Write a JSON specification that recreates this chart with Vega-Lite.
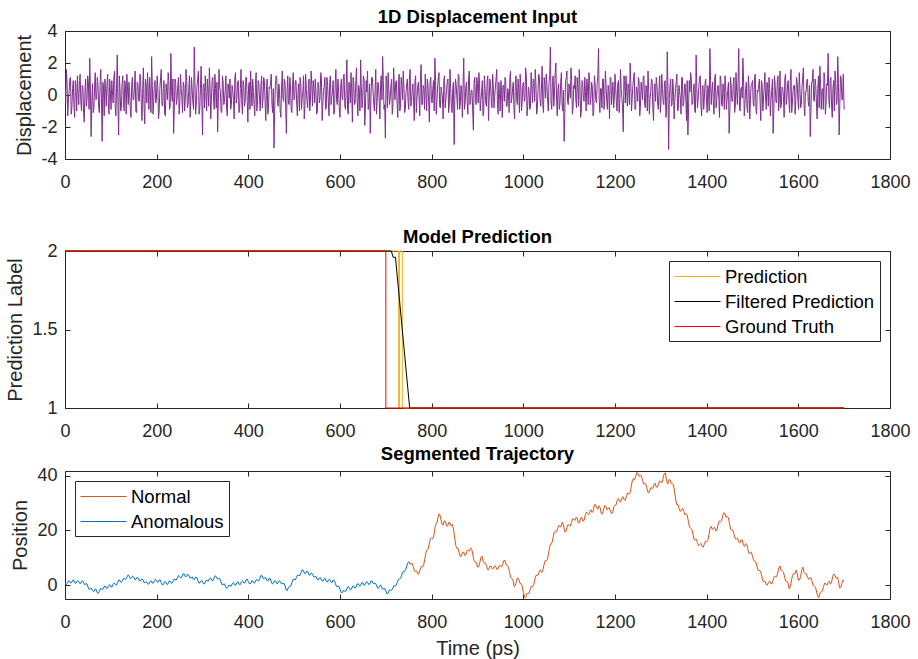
{
"$schema": "https://vega.github.io/schema/vega-lite/v6.json",
"background": "white",
"padding": {"left": 5, "top": 7, "right": 5, "bottom": 0},
"config": {
  "font": "Liberation Sans",
  "view": {"stroke": "#262626", "strokeWidth": 1},
  "axis": {"labelFont": "Liberation Sans", "labelFontSize": 18, "labelColor": "#262626", "titleFont": "Liberation Sans", "titleFontSize": 20, "titleFontWeight": "normal", "titleColor": "#262626", "tickColor": "#262626", "tickSize": -5, "domain": false, "grid": false, "labelFlush": false, "labelOverlap": false, "labelBound": false},
  "axisX": {"labelPadding": 19, "titlePadding": 7},
  "axisY": {"labelPadding": 13, "titlePadding": 6},
  "title": {"font": "Liberation Sans", "fontSize": 18.5, "fontWeight": "bold", "color": "black", "offset": -4}
},
"resolve": {"scale": {"color": "independent"}, "legend": {"color": "independent"}},
"spacing": 3,
"vconcat": [
{
  "width": 825, "height": 128,
  "title": "1D Displacement Input",
  "data": {"values": [
{"t":0,"d":0.4},{"t":3,"d":1.6},{"t":6,"d":-1.3},{"t":9,"d":0.2},{"t":12,"d":1.1},{"t":15,"d":-0.8},{"t":18,"d":0.9},{"t":21,"d":-1.4},{"t":24,"d":0.3},{"t":27,"d":1.2},
{"t":30,"d":-0.6},{"t":33,"d":1.3},{"t":36,"d":-1.0},{"t":39,"d":0.5},{"t":42,"d":-1.7},{"t":45,"d":1.0},{"t":48,"d":-0.3},{"t":51,"d":0.8},{"t":54,"d":2.3},{"t":57,"d":-2.6},
{"t":60,"d":0.7},{"t":63,"d":-0.9},{"t":66,"d":1.4},{"t":69,"d":-0.2},{"t":72,"d":0.6},{"t":75,"d":-1.1},{"t":78,"d":1.6},{"t":81,"d":-2.9},{"t":84,"d":0.5},{"t":87,"d":1.0},
{"t":90,"d":-0.7},{"t":93,"d":1.3},{"t":96,"d":-1.2},{"t":99,"d":0.1},{"t":102,"d":0.9},{"t":105,"d":-0.5},{"t":108,"d":1.5},{"t":111,"d":-1.3},{"t":114,"d":2.5},{"t":117,"d":-2.5},
{"t":120,"d":0.4},{"t":123,"d":-0.8},{"t":126,"d":1.2},{"t":129,"d":-1.0},{"t":132,"d":0.6},{"t":135,"d":1.3},{"t":138,"d":-0.6},{"t":141,"d":0.2},{"t":144,"d":-1.4},{"t":147,"d":1.1},
{"t":150,"d":-0.3},{"t":153,"d":1.5},{"t":156,"d":-1.1},{"t":159,"d":0.7},{"t":162,"d":-0.4},{"t":165,"d":1.0},{"t":168,"d":-1.6},{"t":171,"d":1.7},{"t":174,"d":-1.8},{"t":177,"d":0.6},
{"t":180,"d":1.4},{"t":183,"d":-0.9},{"t":186,"d":0.3},{"t":189,"d":2.4},{"t":192,"d":-1.2},{"t":195,"d":0.8},{"t":198,"d":-0.5},{"t":201,"d":1.2},{"t":204,"d":-1.5},{"t":207,"d":0.4},
{"t":210,"d":1.6},{"t":213,"d":-0.7},{"t":216,"d":0.9},{"t":219,"d":-1.3},{"t":222,"d":0.2},{"t":225,"d":1.4},{"t":228,"d":-0.9},{"t":231,"d":2.6},{"t":234,"d":-0.4},{"t":237,"d":-2.4},
{"t":240,"d":1.0},{"t":243,"d":-0.6},{"t":246,"d":0.5},{"t":249,"d":-1.2},{"t":252,"d":1.3},{"t":255,"d":-0.2},{"t":258,"d":0.8},{"t":261,"d":-1.0},{"t":264,"d":1.6},{"t":267,"d":-0.8},
{"t":270,"d":0.3},{"t":273,"d":-1.4},{"t":276,"d":1.1},{"t":279,"d":-0.5},{"t":282,"d":3.0},{"t":285,"d":-1.2},{"t":288,"d":0.6},{"t":291,"d":1.5},{"t":294,"d":-0.9},{"t":297,"d":1.8},
{"t":300,"d":-2.5},{"t":303,"d":0.7},{"t":306,"d":1.2},{"t":309,"d":-1.0},{"t":312,"d":0.4},{"t":315,"d":1.7},{"t":318,"d":-1.5},{"t":321,"d":0.9},{"t":324,"d":-0.3},{"t":327,"d":1.3},
{"t":330,"d":-0.8},{"t":333,"d":-2.3},{"t":336,"d":1.6},{"t":339,"d":0.2},{"t":342,"d":-1.1},{"t":345,"d":0.8},{"t":348,"d":-0.4},{"t":351,"d":1.2},{"t":354,"d":-1.3},{"t":357,"d":0.5},
{"t":360,"d":1.0},{"t":363,"d":-0.6},{"t":366,"d":0.3},{"t":369,"d":-1.5},{"t":372,"d":1.4},{"t":375,"d":-0.2},{"t":378,"d":0.9},{"t":381,"d":-0.9},{"t":384,"d":1.6},{"t":387,"d":-1.2},
{"t":390,"d":0.6},{"t":393,"d":-0.4},{"t":396,"d":1.1},{"t":399,"d":-1.7},{"t":402,"d":0.8},{"t":405,"d":1.5},{"t":408,"d":-0.7},{"t":411,"d":0.2},{"t":414,"d":-1.3},{"t":417,"d":1.4},
{"t":420,"d":-0.5},{"t":423,"d":0.7},{"t":426,"d":-1.0},{"t":429,"d":1.2},{"t":432,"d":-0.3},{"t":435,"d":0.9},{"t":438,"d":-1.6},{"t":441,"d":1.0},{"t":444,"d":-0.8},{"t":447,"d":0.4},
{"t":450,"d":1.3},{"t":453,"d":-1.1},{"t":456,"d":-3.3},{"t":459,"d":0.6},{"t":462,"d":1.1},{"t":465,"d":-0.7},{"t":468,"d":0.3},{"t":471,"d":-1.4},{"t":474,"d":1.5},{"t":477,"d":-0.4},
{"t":480,"d":0.8},{"t":483,"d":-2.4},{"t":486,"d":1.2},{"t":489,"d":-0.6},{"t":492,"d":0.5},{"t":495,"d":-1.1},{"t":498,"d":1.4},{"t":501,"d":-0.2},{"t":504,"d":0.9},{"t":507,"d":-1.3},
{"t":510,"d":0.7},{"t":513,"d":1.1},{"t":516,"d":-0.9},{"t":519,"d":0.2},{"t":522,"d":-1.5},{"t":525,"d":1.3},{"t":528,"d":-0.4},{"t":531,"d":0.6},{"t":534,"d":-1.0},{"t":537,"d":1.5},
{"t":540,"d":-0.7},{"t":543,"d":0.4},{"t":546,"d":1.0},{"t":549,"d":-1.2},{"t":552,"d":0.8},{"t":555,"d":-0.5},{"t":558,"d":1.4},{"t":561,"d":-1.6},{"t":564,"d":0.3},{"t":567,"d":1.1},
{"t":570,"d":-0.8},{"t":573,"d":0.6},{"t":576,"d":-1.3},{"t":579,"d":1.2},{"t":582,"d":-0.1},{"t":585,"d":0.9},{"t":588,"d":-1.1},{"t":591,"d":1.6},{"t":594,"d":-0.6},{"t":597,"d":0.2},
{"t":600,"d":-1.4},{"t":603,"d":1.0},{"t":606,"d":-0.3},{"t":609,"d":1.3},{"t":612,"d":-0.9},{"t":615,"d":2.2},{"t":618,"d":-1.2},{"t":621,"d":0.5},{"t":624,"d":1.4},{"t":627,"d":-1.7},
{"t":630,"d":0.8},{"t":633,"d":-0.5},{"t":636,"d":1.7},{"t":639,"d":-1.3},{"t":642,"d":0.4},{"t":645,"d":2.2},{"t":648,"d":-0.8},{"t":651,"d":1.2},{"t":654,"d":-1.9},{"t":657,"d":0.9},
{"t":660,"d":1.5},{"t":663,"d":-0.6},{"t":666,"d":-2.4},{"t":669,"d":1.1},{"t":672,"d":0.3},{"t":675,"d":-1.0},{"t":678,"d":1.6},{"t":681,"d":-0.4},{"t":684,"d":0.7},{"t":687,"d":-1.5},
{"t":690,"d":1.2},{"t":693,"d":2.4},{"t":696,"d":-0.9},{"t":699,"d":-2.7},{"t":702,"d":0.8},{"t":705,"d":1.4},{"t":708,"d":-0.6},{"t":711,"d":0.5},{"t":714,"d":-1.2},{"t":717,"d":1.7},
{"t":720,"d":-0.3},{"t":723,"d":0.9},{"t":726,"d":-1.4},{"t":729,"d":1.3},{"t":732,"d":-0.7},{"t":735,"d":0.6},{"t":738,"d":1.5},{"t":741,"d":-1.1},{"t":744,"d":0.2},{"t":747,"d":1.0},
{"t":750,"d":-0.9},{"t":753,"d":1.6},{"t":756,"d":-0.4},{"t":759,"d":0.7},{"t":762,"d":-1.6},{"t":765,"d":1.2},{"t":768,"d":-0.2},{"t":771,"d":0.8},{"t":774,"d":-1.3},{"t":777,"d":1.9},
{"t":780,"d":-0.6},{"t":783,"d":0.4},{"t":786,"d":1.3},{"t":789,"d":-1.0},{"t":792,"d":0.6},{"t":795,"d":-1.7},{"t":798,"d":1.1},{"t":801,"d":-0.5},{"t":804,"d":0.9},{"t":807,"d":2.3},
{"t":810,"d":-1.2},{"t":813,"d":0.5},{"t":816,"d":1.4},{"t":819,"d":-0.8},{"t":822,"d":0.2},{"t":825,"d":-1.5},{"t":828,"d":1.2},{"t":831,"d":-0.3},{"t":834,"d":0.8},{"t":837,"d":-1.1},
{"t":840,"d":1.6},{"t":843,"d":-0.7},{"t":846,"d":0.4},{"t":849,"d":-3.1},{"t":852,"d":1.0},{"t":855,"d":-0.2},{"t":858,"d":1.3},{"t":861,"d":-0.9},{"t":864,"d":0.6},{"t":867,"d":-1.4},
{"t":870,"d":2.3},{"t":873,"d":-0.5},{"t":876,"d":0.8},{"t":879,"d":-1.2},{"t":882,"d":1.5},{"t":885,"d":-0.4},{"t":888,"d":0.3},{"t":891,"d":-2.2},{"t":894,"d":1.1},{"t":897,"d":-0.6},
{"t":900,"d":0.7},{"t":903,"d":1.4},{"t":906,"d":-1.0},{"t":909,"d":0.2},{"t":912,"d":-1.3},{"t":915,"d":1.2},{"t":918,"d":-0.5},{"t":921,"d":0.9},{"t":924,"d":-1.6},{"t":927,"d":1.0},
{"t":930,"d":-0.3},{"t":933,"d":1.3},{"t":936,"d":-0.8},{"t":939,"d":0.5},{"t":942,"d":1.6},{"t":945,"d":-1.2},{"t":948,"d":0.1},{"t":951,"d":0.9},{"t":954,"d":-1.4},{"t":957,"d":0.6},
{"t":960,"d":1.1},{"t":963,"d":-0.7},{"t":966,"d":0.4},{"t":969,"d":-1.1},{"t":972,"d":1.5},{"t":975,"d":-0.2},{"t":978,"d":0.8},{"t":981,"d":-1.5},{"t":984,"d":1.2},{"t":987,"d":-0.6},
{"t":990,"d":0.3},{"t":993,"d":1.3},{"t":996,"d":-1.0},{"t":999,"d":0.7},{"t":1002,"d":-0.4},{"t":1005,"d":1.7},{"t":1008,"d":-1.3},{"t":1011,"d":0.5},{"t":1014,"d":-0.9},{"t":1017,"d":1.4},
{"t":1020,"d":-0.5},{"t":1023,"d":0.9},{"t":1026,"d":1.6},{"t":1029,"d":-1.2},{"t":1032,"d":0.3},{"t":1035,"d":1.1},{"t":1038,"d":-0.7},{"t":1041,"d":1.8},{"t":1044,"d":-1.1},{"t":1047,"d":0.6},
{"t":1050,"d":1.3},{"t":1053,"d":-0.4},{"t":1056,"d":0.8},{"t":1059,"d":3.0},{"t":1062,"d":-0.9},{"t":1065,"d":1.2},{"t":1068,"d":0.2},{"t":1071,"d":2.0},{"t":1074,"d":-1.3},{"t":1077,"d":0.7},
{"t":1080,"d":-0.5},{"t":1083,"d":1.4},{"t":1086,"d":-1.0},{"t":1089,"d":-2.9},{"t":1092,"d":0.9},{"t":1095,"d":1.5},{"t":1098,"d":-0.6},{"t":1101,"d":0.4},{"t":1104,"d":1.7},{"t":1107,"d":-1.2},
{"t":1110,"d":0.6},{"t":1113,"d":1.2},{"t":1116,"d":-0.8},{"t":1119,"d":0.3},{"t":1122,"d":1.6},{"t":1125,"d":-1.4},{"t":1128,"d":0.9},{"t":1131,"d":-0.2},{"t":1134,"d":1.1},{"t":1137,"d":-1.0},
{"t":1140,"d":0.5},{"t":1143,"d":1.4},{"t":1146,"d":-0.6},{"t":1149,"d":0.8},{"t":1152,"d":-1.3},{"t":1155,"d":1.2},{"t":1158,"d":-0.3},{"t":1161,"d":0.7},{"t":1164,"d":2.9},{"t":1167,"d":-1.1},
{"t":1170,"d":0.4},{"t":1173,"d":1.0},{"t":1176,"d":-0.9},{"t":1179,"d":1.5},{"t":1182,"d":-0.4},{"t":1185,"d":0.6},{"t":1188,"d":-1.5},{"t":1191,"d":1.1},{"t":1194,"d":0.2},{"t":1197,"d":-0.8},
{"t":1200,"d":1.3},{"t":1203,"d":-0.5},{"t":1206,"d":0.7},{"t":1209,"d":-1.1},{"t":1212,"d":1.6},{"t":1215,"d":-0.2},{"t":1218,"d":-2.3},{"t":1221,"d":0.9},{"t":1224,"d":1.2},{"t":1227,"d":-0.7},
{"t":1230,"d":0.4},{"t":1233,"d":2.0},{"t":1236,"d":-1.0},{"t":1239,"d":0.6},{"t":1242,"d":1.4},{"t":1245,"d":-0.9},{"t":1248,"d":0.3},{"t":1251,"d":1.1},{"t":1254,"d":-1.3},{"t":1257,"d":0.8},
{"t":1260,"d":-0.3},{"t":1263,"d":1.2},{"t":1266,"d":-0.8},{"t":1269,"d":0.5},{"t":1272,"d":1.5},{"t":1275,"d":-1.2},{"t":1278,"d":0.2},{"t":1281,"d":0.9},{"t":1284,"d":-1.6},{"t":1287,"d":0.7},
{"t":1290,"d":1.1},{"t":1293,"d":-0.5},{"t":1296,"d":0.3},{"t":1299,"d":-1.1},{"t":1302,"d":1.3},{"t":1305,"d":-0.4},{"t":1308,"d":0.8},{"t":1311,"d":-1.4},{"t":1314,"d":2.7},{"t":1317,"d":-3.4},
{"t":1320,"d":0.6},{"t":1323,"d":-0.7},{"t":1326,"d":1.0},{"t":1329,"d":-1.5},{"t":1332,"d":0.4},{"t":1335,"d":1.3},{"t":1338,"d":-0.9},{"t":1341,"d":0.2},{"t":1344,"d":-1.2},{"t":1347,"d":1.1},
{"t":1350,"d":-0.4},{"t":1353,"d":0.7},{"t":1356,"d":-1.6},{"t":1359,"d":-2.5},{"t":1362,"d":0.9},{"t":1365,"d":1.4},{"t":1368,"d":-0.6},{"t":1371,"d":0.3},{"t":1374,"d":-1.0},{"t":1377,"d":2.5},
{"t":1380,"d":-0.8},{"t":1383,"d":0.5},{"t":1386,"d":1.2},{"t":1389,"d":-1.3},{"t":1392,"d":0.6},{"t":1395,"d":-0.2},{"t":1398,"d":1.0},{"t":1401,"d":-1.1},{"t":1404,"d":0.4},{"t":1407,"d":2.9},
{"t":1410,"d":-0.6},{"t":1413,"d":0.8},{"t":1416,"d":-1.2},{"t":1419,"d":1.3},{"t":1422,"d":-0.3},{"t":1425,"d":0.6},{"t":1428,"d":-1.4},{"t":1431,"d":1.0},{"t":1434,"d":-0.7},{"t":1437,"d":0.5},
{"t":1440,"d":1.2},{"t":1443,"d":-0.9},{"t":1446,"d":0.3},{"t":1449,"d":-2.4},{"t":1452,"d":1.1},{"t":1455,"d":-0.4},{"t":1458,"d":0.7},{"t":1461,"d":-1.1},{"t":1464,"d":1.4},{"t":1467,"d":-0.6},
{"t":1470,"d":2.9},{"t":1473,"d":-1.0},{"t":1476,"d":0.5},{"t":1479,"d":2.3},{"t":1482,"d":-1.3},{"t":1485,"d":0.4},{"t":1488,"d":-0.8},{"t":1491,"d":1.2},{"t":1494,"d":-1.5},{"t":1497,"d":0.6},
{"t":1500,"d":0.9},{"t":1503,"d":-0.7},{"t":1506,"d":1.3},{"t":1509,"d":-1.2},{"t":1512,"d":0.2},{"t":1515,"d":1.0},{"t":1518,"d":-1.6},{"t":1521,"d":0.7},{"t":1524,"d":-0.3},{"t":1527,"d":1.4},
{"t":1530,"d":-0.9},{"t":1533,"d":0.5},{"t":1536,"d":1.1},{"t":1539,"d":-1.3},{"t":1542,"d":0.3},{"t":1545,"d":-2.4},{"t":1548,"d":1.2},{"t":1551,"d":-0.4},{"t":1554,"d":0.8},{"t":1557,"d":-1.0},
{"t":1560,"d":1.5},{"t":1563,"d":-0.6},{"t":1566,"d":0.4},{"t":1569,"d":-1.4},{"t":1572,"d":1.3},{"t":1575,"d":-0.2},{"t":1578,"d":0.9},{"t":1581,"d":-1.1},{"t":1584,"d":1.6},{"t":1587,"d":-0.5},
{"t":1590,"d":0.6},{"t":1593,"d":-1.2},{"t":1596,"d":1.1},{"t":1599,"d":-0.3},{"t":1602,"d":1.4},{"t":1605,"d":-0.8},{"t":1608,"d":0.5},{"t":1611,"d":1.7},{"t":1614,"d":-1.3},{"t":1617,"d":0.2},
{"t":1620,"d":1.0},{"t":1623,"d":-0.7},{"t":1626,"d":-2.6},{"t":1629,"d":0.8},{"t":1632,"d":1.6},{"t":1635,"d":-0.4},{"t":1638,"d":0.6},{"t":1641,"d":-1.5},{"t":1644,"d":1.2},{"t":1647,"d":1.8},
{"t":1650,"d":-0.9},{"t":1653,"d":0.4},{"t":1656,"d":1.4},{"t":1659,"d":-1.2},{"t":1662,"d":0.7},{"t":1665,"d":2.6},{"t":1668,"d":-0.8},{"t":1671,"d":1.1},{"t":1674,"d":-1.4},{"t":1677,"d":0.9},
{"t":1680,"d":1.5},{"t":1683,"d":-0.6},{"t":1686,"d":2.4},{"t":1689,"d":-2.5},{"t":1692,"d":1.2},{"t":1695,"d":-0.3},{"t":1698,"d":1.3},{"t":1700,"d":-0.9},
{"t":1.5,"d":-0.5},{"t":4.5,"d":0.8},{"t":7.5,"d":-0.2},{"t":10.5,"d":1.0},{"t":13.5,"d":-1.2},{"t":16.5,"d":0.4},{"t":19.5,"d":-0.6},{"t":22.5,"d":0.9},{"t":25.5,"d":-1.0},{"t":28.5,"d":0.1},
{"t":31.5,"d":0.9},{"t":34.5,"d":-0.4},{"t":37.5,"d":0.6},{"t":40.5,"d":-1.1},{"t":43.5,"d":0.3},{"t":46.5,"d":-0.7},{"t":49.5,"d":1.2},{"t":52.5,"d":-0.9},{"t":55.5,"d":0.2},{"t":58.5,"d":-0.4},
{"t":61.5,"d":-1.1},{"t":64.5,"d":0.5},{"t":67.5,"d":-0.3},{"t":70.5,"d":1.1},{"t":73.5,"d":-0.8},{"t":76.5,"d":0.6},{"t":79.5,"d":-0.2},{"t":82.5,"d":0.8},{"t":85.5,"d":-1.3},{"t":88.5,"d":0.4},
{"t":91.5,"d":0.6},{"t":94.5,"d":-0.5},{"t":97.5,"d":1.0},{"t":100.5,"d":-0.9},{"t":103.5,"d":0.2},{"t":106.5,"d":1.1},{"t":109.5,"d":-0.7},{"t":112.5,"d":0.5},{"t":115.5,"d":-0.6},{"t":118.5,"d":1.2},
{"t":121.5,"d":-1.0},{"t":124.5,"d":0.7},{"t":127.5,"d":-0.4},{"t":130.5,"d":0.9},{"t":133.5,"d":-1.2},{"t":136.5,"d":0.3},{"t":139.5,"d":0.8},{"t":142.5,"d":-0.9},{"t":145.5,"d":0.6},{"t":148.5,"d":-0.3},
{"t":151.5,"d":0.5},{"t":154.5,"d":-1.0},{"t":157.5,"d":0.8},{"t":160.5,"d":-0.3},{"t":163.5,"d":1.3},{"t":166.5,"d":-0.6},{"t":169.5,"d":0.4},{"t":172.5,"d":-0.8},{"t":175.5,"d":1.0},{"t":178.5,"d":-0.5},
{"t":181.5,"d":0.3},{"t":184.5,"d":1.1},{"t":187.5,"d":-1.1},{"t":190.5,"d":0.6},{"t":193.5,"d":-0.4},{"t":196.5,"d":0.9},{"t":199.5,"d":-0.2},{"t":202.5,"d":0.5},{"t":205.5,"d":-1.0},{"t":208.5,"d":1.1},
{"t":211.5,"d":-0.6},{"t":214.5,"d":0.4},{"t":217.5,"d":-1.2},{"t":220.5,"d":0.7},{"t":223.5,"d":-0.3},{"t":226.5,"d":0.9},{"t":229.5,"d":-0.7},{"t":232.5,"d":0.2},{"t":235.5,"d":1.0},{"t":238.5,"d":-0.8},
{"t":241.5,"d":0.8},{"t":244.5,"d":-0.3},{"t":247.5,"d":1.1},{"t":250.5,"d":-0.5},{"t":253.5,"d":0.4},{"t":256.5,"d":-1.1},{"t":259.5,"d":0.6},{"t":262.5,"d":-0.2},{"t":265.5,"d":0.9},{"t":268.5,"d":-0.6},
{"t":271.5,"d":1.2},{"t":274.5,"d":-0.4},{"t":277.5,"d":0.3},{"t":280.5,"d":-0.9},{"t":283.5,"d":0.7},{"t":286.5,"d":-0.5},{"t":289.5,"d":1.0},{"t":292.5,"d":-1.2},{"t":295.5,"d":0.4},{"t":298.5,"d":-0.3},
{"t":301.5,"d":0.6},{"t":304.5,"d":-0.8},{"t":307.5,"d":0.2},{"t":310.5,"d":1.0},{"t":313.5,"d":-0.7},{"t":316.5,"d":0.5},{"t":319.5,"d":-0.2},{"t":322.5,"d":1.1},{"t":325.5,"d":-0.9},{"t":328.5,"d":0.4},
{"t":331.5,"d":0.8},{"t":334.5,"d":-0.4},{"t":337.5,"d":0.5},{"t":340.5,"d":-1.0},{"t":343.5,"d":1.2},{"t":346.5,"d":-0.6},{"t":349.5,"d":0.3},{"t":352.5,"d":-0.8},{"t":355.5,"d":0.7},{"t":358.5,"d":-0.2},
{"t":361.5,"d":-0.9},{"t":364.5,"d":0.6},{"t":367.5,"d":-0.3},{"t":370.5,"d":1.0},{"t":373.5,"d":-0.5},{"t":376.5,"d":0.8},{"t":379.5,"d":-1.1},{"t":382.5,"d":0.4},{"t":385.5,"d":-0.2},{"t":388.5,"d":0.9},
{"t":391.5,"d":-0.7},{"t":394.5,"d":1.1},{"t":397.5,"d":-0.4},{"t":400.5,"d":0.5},{"t":403.5,"d":-0.9},{"t":406.5,"d":0.2},{"t":409.5,"d":1.0},{"t":412.5,"d":-0.6},{"t":415.5,"d":0.7},{"t":418.5,"d":-1.0},
{"t":421.5,"d":0.9},{"t":424.5,"d":-0.3},{"t":427.5,"d":0.6},{"t":430.5,"d":-0.8},{"t":433.5,"d":1.1},{"t":436.5,"d":-0.4},{"t":439.5,"d":0.3},{"t":442.5,"d":-1.2},{"t":445.5,"d":0.5},{"t":448.5,"d":0.8},
{"t":451.5,"d":-0.6},{"t":454.5,"d":0.4},{"t":457.5,"d":-0.9},{"t":460.5,"d":1.2},{"t":463.5,"d":-0.3},{"t":466.5,"d":0.7},{"t":469.5,"d":-1.0},{"t":472.5,"d":0.5},{"t":475.5,"d":-0.2},{"t":478.5,"d":1.0},
{"t":481.5,"d":-0.8},{"t":484.5,"d":0.3},{"t":487.5,"d":-0.5},{"t":490.5,"d":1.1},{"t":493.5,"d":-0.9},{"t":496.5,"d":0.6},{"t":499.5,"d":-0.3},{"t":502.5,"d":0.9},{"t":505.5,"d":-0.6},{"t":508.5,"d":0.2},
{"t":511.5,"d":-1.0},{"t":514.5,"d":0.7},{"t":517.5,"d":-0.2},{"t":520.5,"d":1.2},{"t":523.5,"d":-0.6},{"t":526.5,"d":0.4},{"t":529.5,"d":-0.8},{"t":532.5,"d":1.0},{"t":535.5,"d":-0.4},{"t":538.5,"d":0.6},
{"t":541.5,"d":0.9},{"t":544.5,"d":-0.5},{"t":547.5,"d":0.3},{"t":550.5,"d":-1.1},{"t":553.5,"d":0.6},{"t":556.5,"d":-0.2},{"t":559.5,"d":1.0},{"t":562.5,"d":-0.7},{"t":565.5,"d":0.5},{"t":568.5,"d":-0.9},
{"t":571.5,"d":1.1},{"t":574.5,"d":-0.4},{"t":577.5,"d":0.8},{"t":580.5,"d":-0.6},{"t":583.5,"d":0.2},{"t":586.5,"d":-1.2},{"t":589.5,"d":0.7},{"t":592.5,"d":-0.3},{"t":595.5,"d":1.0},{"t":598.5,"d":-0.8},
{"t":601.5,"d":0.5},{"t":604.5,"d":-0.2},{"t":607.5,"d":1.2},{"t":610.5,"d":-0.7},{"t":613.5,"d":0.4},{"t":616.5,"d":-0.9},{"t":619.5,"d":0.8},{"t":622.5,"d":-0.5},{"t":625.5,"d":0.3},{"t":628.5,"d":1.1},
{"t":631.5,"d":-0.6},{"t":634.5,"d":0.9},{"t":637.5,"d":-0.4},{"t":640.5,"d":0.6},{"t":643.5,"d":-1.0},{"t":646.5,"d":0.5},{"t":649.5,"d":-0.3},{"t":652.5,"d":1.0},{"t":655.5,"d":-0.8},{"t":658.5,"d":0.2},
{"t":661.5,"d":-0.9},{"t":664.5,"d":0.7},{"t":667.5,"d":-0.2},{"t":670.5,"d":1.1},{"t":673.5,"d":-0.5},{"t":676.5,"d":0.3},{"t":679.5,"d":-1.2},{"t":682.5,"d":0.8},{"t":685.5,"d":-0.4},{"t":688.5,"d":0.6},
{"t":691.5,"d":-0.3},{"t":694.5,"d":0.9},{"t":697.5,"d":-0.6},{"t":700.5,"d":1.2},{"t":703.5,"d":-0.8},{"t":706.5,"d":0.4},{"t":709.5,"d":-0.2},{"t":712.5,"d":1.0},{"t":715.5,"d":-0.7},{"t":718.5,"d":0.5},
{"t":721.5,"d":0.8},{"t":724.5,"d":-0.5},{"t":727.5,"d":0.6},{"t":730.5,"d":-1.0},{"t":733.5,"d":1.1},{"t":736.5,"d":-0.3},{"t":739.5,"d":0.4},{"t":742.5,"d":-0.9},{"t":745.5,"d":0.7},{"t":748.5,"d":-0.4},
{"t":751.5,"d":1.0},{"t":754.5,"d":-0.7},{"t":757.5,"d":0.3},{"t":760.5,"d":-0.4},{"t":763.5,"d":0.9},{"t":766.5,"d":-1.1},{"t":769.5,"d":0.5},{"t":772.5,"d":-0.2},{"t":775.5,"d":1.2},{"t":778.5,"d":-0.6},
{"t":781.5,"d":0.6},{"t":784.5,"d":-0.9},{"t":787.5,"d":0.2},{"t":790.5,"d":1.0},{"t":793.5,"d":-0.5},{"t":796.5,"d":0.8},{"t":799.5,"d":-0.3},{"t":802.5,"d":0.4},{"t":805.5,"d":-1.0},{"t":808.5,"d":0.9},
{"t":811.5,"d":-0.4},{"t":814.5,"d":1.1},{"t":817.5,"d":-0.7},{"t":820.5,"d":0.5},{"t":823.5,"d":-0.2},{"t":826.5,"d":0.9},{"t":829.5,"d":-0.8},{"t":832.5,"d":0.3},{"t":835.5,"d":1.0},{"t":838.5,"d":-0.6},
{"t":841.5,"d":0.4},{"t":844.5,"d":-1.1},{"t":847.5,"d":0.8},{"t":850.5,"d":-0.3},{"t":853.5,"d":0.6},{"t":856.5,"d":-0.9},{"t":859.5,"d":1.2},{"t":862.5,"d":-0.5},{"t":865.5,"d":0.2},{"t":868.5,"d":0.7},
{"t":871.5,"d":-0.9},{"t":874.5,"d":0.5},{"t":877.5,"d":-0.4},{"t":880.5,"d":1.0},{"t":883.5,"d":-0.6},{"t":886.5,"d":0.3},{"t":889.5,"d":-1.0},{"t":892.5,"d":0.8},{"t":895.5,"d":-0.2},{"t":898.5,"d":1.1},
{"t":901.5,"d":-0.5},{"t":904.5,"d":0.7},{"t":907.5,"d":-0.3},{"t":910.5,"d":0.9},{"t":913.5,"d":-1.1},{"t":916.5,"d":0.4},{"t":919.5,"d":-0.7},{"t":922.5,"d":1.2},{"t":925.5,"d":-0.2},{"t":928.5,"d":0.6},
{"t":931.5,"d":-0.8},{"t":934.5,"d":0.5},{"t":937.5,"d":-0.1},{"t":940.5,"d":1.0},{"t":943.5,"d":-0.6},{"t":946.5,"d":0.8},{"t":949.5,"d":-1.0},{"t":952.5,"d":0.3},{"t":955.5,"d":0.6},{"t":958.5,"d":-0.4},
{"t":961.5,"d":0.9},{"t":964.5,"d":-0.7},{"t":967.5,"d":0.2},{"t":970.5,"d":1.1},{"t":973.5,"d":-0.5},{"t":976.5,"d":0.4},{"t":979.5,"d":-0.9},{"t":982.5,"d":0.7},{"t":985.5,"d":-0.3},{"t":988.5,"d":1.0},
{"t":991.5,"d":-1.1},{"t":994.5,"d":0.6},{"t":997.5,"d":-0.4},{"t":1000.5,"d":0.8},{"t":1003.5,"d":-0.2},{"t":1006.5,"d":1.2},{"t":1009.5,"d":-0.7},{"t":1012.5,"d":0.3},{"t":1015.5,"d":-0.8},{"t":1018.5,"d":0.5},
{"t":1021.5,"d":1.0},{"t":1024.5,"d":-0.4},{"t":1027.5,"d":0.7},{"t":1030.5,"d":-0.9},{"t":1033.5,"d":1.3},{"t":1036.5,"d":-0.3},{"t":1039.5,"d":0.5},{"t":1042.5,"d":-0.6},{"t":1045.5,"d":1.1},{"t":1048.5,"d":-0.2},
{"t":1051.5,"d":0.6},{"t":1054.5,"d":-1.0},{"t":1057.5,"d":1.2},{"t":1060.5,"d":-0.5},{"t":1063.5,"d":0.9},{"t":1066.5,"d":-0.7},{"t":1069.5,"d":1.4},{"t":1072.5,"d":-0.3},{"t":1075.5,"d":0.4},{"t":1078.5,"d":-0.9},
{"t":1081.5,"d":0.8},{"t":1084.5,"d":-0.6},{"t":1087.5,"d":0.3},{"t":1090.5,"d":-1.2},{"t":1093.5,"d":1.0},{"t":1096.5,"d":-0.4},{"t":1099.5,"d":0.7},{"t":1102.5,"d":-0.2},{"t":1105.5,"d":0.9},{"t":1108.5,"d":-0.8},
{"t":1111.5,"d":0.4},{"t":1114.5,"d":-0.3},{"t":1117.5,"d":1.1},{"t":1120.5,"d":-0.7},{"t":1123.5,"d":0.5},{"t":1126.5,"d":-1.0},{"t":1129.5,"d":0.8},{"t":1132.5,"d":-0.4},{"t":1135.5,"d":0.2},{"t":1138.5,"d":1.0},
{"t":1141.5,"d":-0.6},{"t":1144.5,"d":0.9},{"t":1147.5,"d":-0.2},{"t":1150.5,"d":0.5},{"t":1153.5,"d":-1.1},{"t":1156.5,"d":0.7},{"t":1159.5,"d":-0.5},{"t":1162.5,"d":1.2},{"t":1165.5,"d":-0.3},{"t":1168.5,"d":0.4},
{"t":1171.5,"d":-0.8},{"t":1174.5,"d":1.0},{"t":1177.5,"d":-0.4},{"t":1180.5,"d":0.6},{"t":1183.5,"d":-0.9},{"t":1186.5,"d":0.3},{"t":1189.5,"d":1.1},{"t":1192.5,"d":-0.6},{"t":1195.5,"d":0.8},{"t":1198.5,"d":-0.2},
{"t":1201.5,"d":0.5},{"t":1204.5,"d":-1.0},{"t":1207.5,"d":0.9},{"t":1210.5,"d":-0.3},{"t":1213.5,"d":0.4},{"t":1216.5,"d":-0.8},{"t":1219.5,"d":1.2},{"t":1222.5,"d":-0.5},{"t":1225.5,"d":0.2},{"t":1228.5,"d":0.7},
{"t":1231.5,"d":-0.6},{"t":1234.5,"d":0.8},{"t":1237.5,"d":-0.2},{"t":1240.5,"d":1.0},{"t":1243.5,"d":-0.9},{"t":1246.5,"d":0.5},{"t":1249.5,"d":-0.4},{"t":1252.5,"d":0.9},{"t":1255.5,"d":-0.7},{"t":1258.5,"d":0.3},
{"t":1261.5,"d":1.1},{"t":1264.5,"d":-0.5},{"t":1267.5,"d":0.6},{"t":1270.5,"d":-1.0},{"t":1273.5,"d":0.3},{"t":1276.5,"d":-0.2},{"t":1279.5,"d":1.0},{"t":1282.5,"d":-0.8},{"t":1285.5,"d":0.5},{"t":1288.5,"d":-0.4},
{"t":1291.5,"d":0.7},{"t":1294.5,"d":-0.9},{"t":1297.5,"d":1.2},{"t":1300.5,"d":-0.3},{"t":1303.5,"d":0.4},{"t":1306.5,"d":-0.6},{"t":1309.5,"d":0.9},{"t":1312.5,"d":-1.1},{"t":1315.5,"d":0.5},{"t":1318.5,"d":-0.2},
{"t":1321.5,"d":1.0},{"t":1324.5,"d":-0.6},{"t":1327.5,"d":0.3},{"t":1330.5,"d":-0.4},{"t":1333.5,"d":0.8},{"t":1336.5,"d":-1.0},{"t":1339.5,"d":0.6},{"t":1342.5,"d":-0.2},{"t":1345.5,"d":1.1},{"t":1348.5,"d":-0.7},
{"t":1351.5,"d":0.5},{"t":1354.5,"d":-0.3},{"t":1357.5,"d":0.9},{"t":1360.5,"d":-0.8},{"t":1363.5,"d":0.2},{"t":1366.5,"d":1.0},{"t":1369.5,"d":-0.5},{"t":1372.5,"d":0.7},{"t":1375.5,"d":-1.1},{"t":1378.5,"d":0.4},
{"t":1381.5,"d":-0.2},{"t":1384.5,"d":1.1},{"t":1387.5,"d":-0.7},{"t":1390.5,"d":0.5},{"t":1393.5,"d":-0.9},{"t":1396.5,"d":0.8},{"t":1399.5,"d":-0.3},{"t":1402.5,"d":0.6},{"t":1405.5,"d":-1.0},{"t":1408.5,"d":0.9},
{"t":1411.5,"d":0.3},{"t":1414.5,"d":-0.5},{"t":1417.5,"d":1.0},{"t":1420.5,"d":-0.8},{"t":1423.5,"d":0.4},{"t":1426.5,"d":-0.2},{"t":1429.5,"d":1.2},{"t":1432.5,"d":-0.6},{"t":1435.5,"d":0.7},{"t":1438.5,"d":-0.9},
{"t":1441.5,"d":0.5},{"t":1444.5,"d":-0.3},{"t":1447.5,"d":0.8},{"t":1450.5,"d":-1.0},{"t":1453.5,"d":0.6},{"t":1456.5,"d":-0.4},{"t":1459.5,"d":1.1},{"t":1462.5,"d":-0.7},{"t":1465.5,"d":0.2},{"t":1468.5,"d":0.9},
{"t":1471.5,"d":-0.8},{"t":1474.5,"d":0.4},{"t":1477.5,"d":-0.2},{"t":1480.5,"d":1.0},{"t":1483.5,"d":-0.6},{"t":1486.5,"d":0.8},{"t":1489.5,"d":-1.1},{"t":1492.5,"d":0.5},{"t":1495.5,"d":-0.3},{"t":1498.5,"d":0.7},
{"t":1501.5,"d":-0.5},{"t":1504.5,"d":1.1},{"t":1507.5,"d":-0.9},{"t":1510.5,"d":0.3},{"t":1513.5,"d":0.6},{"t":1516.5,"d":-0.4},{"t":1519.5,"d":0.9},{"t":1522.5,"d":-1.0},{"t":1525.5,"d":0.5},{"t":1528.5,"d":-0.2},
{"t":1531.5,"d":0.8},{"t":1534.5,"d":-0.7},{"t":1537.5,"d":0.4},{"t":1540.5,"d":-0.3},{"t":1543.5,"d":1.0},{"t":1546.5,"d":-0.9},{"t":1549.5,"d":0.6},{"t":1552.5,"d":-0.5},{"t":1555.5,"d":1.2},{"t":1558.5,"d":-0.2},
{"t":1561.5,"d":-0.8},{"t":1564.5,"d":0.5},{"t":1567.5,"d":-0.1},{"t":1570.5,"d":1.0},{"t":1573.5,"d":-0.6},{"t":1576.5,"d":0.7},{"t":1579.5,"d":-0.4},{"t":1582.5,"d":0.9},{"t":1585.5,"d":-1.1},{"t":1588.5,"d":0.3},
{"t":1591.5,"d":0.6},{"t":1594.5,"d":-0.3},{"t":1597.5,"d":0.8},{"t":1600.5,"d":-0.9},{"t":1603.5,"d":0.4},{"t":1606.5,"d":-0.6},{"t":1609.5,"d":1.1},{"t":1612.5,"d":-0.7},{"t":1615.5,"d":0.2},{"t":1618.5,"d":0.9},
{"t":1621.5,"d":-0.4},{"t":1624.5,"d":0.6},{"t":1627.5,"d":-1.0},{"t":1630.5,"d":0.8},{"t":1633.5,"d":-0.3},{"t":1636.5,"d":1.0},{"t":1639.5,"d":-0.5},{"t":1642.5,"d":0.4},{"t":1645.5,"d":-0.8},{"t":1648.5,"d":0.7},
{"t":1651.5,"d":0.3},{"t":1654.5,"d":-0.9},{"t":1657.5,"d":1.1},{"t":1660.5,"d":-0.5},{"t":1663.5,"d":0.6},{"t":1666.5,"d":-0.2},{"t":1669.5,"d":0.9},{"t":1672.5,"d":-0.7},{"t":1675.5,"d":0.4},{"t":1678.5,"d":-1.0},
{"t":1681.5,"d":0.8},{"t":1684.5,"d":-0.4},{"t":1687.5,"d":0.7},{"t":1690.5,"d":-0.6},{"t":1693.5,"d":1.0},{"t":1696.5,"d":-0.3}
  ]},
  "layer": [
    {"mark": {"type": "line", "color": "#7E2F8E", "strokeWidth": 1, "clip": true},
     "encoding": {
       "x": {"field": "t", "type": "quantitative", "scale": {"domain": [0, 1800], "nice": false, "zero": false}, "axis": {"values": [0,200,400,600,800,1000,1200,1400,1600,1800], "labelExpr": "'' + datum.value", "title": " ", "titlePadding": 12}},
       "y": {"field": "d", "type": "quantitative", "scale": {"domain": [-4, 4], "nice": false, "zero": false}, "axis": {"values": [-4,-2,0,2,4], "labelExpr": "'' + datum.value", "title": "Displacement"}}
     }},
    {"mark": {"type": "line", "opacity": 0},
     "encoding": {
       "x": {"field": "t", "type": "quantitative", "axis": {"orient": "top", "values": [0,200,400,600,800,1000,1200,1400,1600,1800], "labels": false, "title": null}},
       "y": {"field": "d", "type": "quantitative", "axis": {"orient": "right", "values": [-4,-2,0,2,4], "labels": false, "title": null}}
     }}
  ],
  "resolve": {"axis": {"x": "independent", "y": "independent"}}
},
{
  "width": 825, "height": 157,
  "title": "Model Prediction",
  "data": {"values": [
    {"s":"Prediction","t":0,"v":2,"o":0},{"s":"Prediction","t":728,"v":2,"o":1},{"s":"Prediction","t":728,"v":1,"o":2},{"s":"Prediction","t":730,"v":1,"o":3},{"s":"Prediction","t":730,"v":2,"o":4},{"s":"Prediction","t":736,"v":2,"o":5},{"s":"Prediction","t":736,"v":1,"o":6},{"s":"Prediction","t":1700,"v":1,"o":7},
    {"s":"Filtered Prediction","t":0,"v":2,"o":0},{"s":"Filtered Prediction","t":712,"v":2,"o":1},{"s":"Filtered Prediction","t":716,"v":1.96,"o":2},{"s":"Filtered Prediction","t":721,"v":1.96,"o":3},{"s":"Filtered Prediction","t":752,"v":1,"o":4},{"s":"Filtered Prediction","t":1700,"v":1,"o":5},
    {"s":"Ground Truth","t":0,"v":2,"o":0},{"s":"Ground Truth","t":700,"v":2,"o":1},{"s":"Ground Truth","t":700,"v":1,"o":2},{"s":"Ground Truth","t":1700,"v":1,"o":3}
  ]},
  "layer": [
    {"transform": [{"filter": "datum.s === 'Prediction'"}],
     "mark": {"type": "line", "strokeWidth": 1},
     "encoding": {
       "x": {"field": "t", "type": "quantitative", "scale": {"domain": [0, 1800], "nice": false, "zero": false}, "axis": {"values": [0,200,400,600,800,1000,1200,1400,1600,1800], "labelExpr": "'' + datum.value", "title": null}},
       "y": {"field": "v", "type": "quantitative", "scale": {"domain": [1, 2], "nice": false, "zero": false}, "axis": {"values": [1,1.5,2], "labelExpr": "'' + datum.value", "title": "Prediction Label"}},
       "order": {"field": "o", "type": "quantitative"},
       "color": {"field": "s", "type": "nominal", "scale": {"domain": ["Prediction","Filtered Prediction","Ground Truth"], "range": ["#EDB120","#000000","#FF0000"]},
         "legend": {"title": null, "orient": "top-right", "offset": 10, "symbolType": "M-2.3,0H2.3", "symbolSize": 400, "symbolStrokeWidth": 1, "symbolOffset": 13, "labelOffset": 17, "labelFontSize": 18.5, "labelFont": "Liberation Sans", "labelColor": "black", "strokeColor": "#262626", "fillColor": "white", "padding": 5, "rowPadding": 5, "cornerRadius": 0,
           "encode": {"symbols": {"update": {"stroke": {"signal": "datum.value === 'Prediction' ? '#EDB120' : datum.value === 'Filtered Prediction' ? '#000000' : '#FF0000'"}, "strokeWidth": {"value": 1}, "opacity": {"value": 1}, "fill": {"value": "transparent"}}}}}}
     }},
    {"transform": [{"filter": "datum.s === 'Filtered Prediction'"}],
     "mark": {"type": "line", "strokeWidth": 1},
     "encoding": {
       "x": {"field": "t", "type": "quantitative", "axis": null},
       "y": {"field": "v", "type": "quantitative", "axis": null},
       "order": {"field": "o", "type": "quantitative"},
       "color": {"field": "s", "type": "nominal"}
     }},
    {"transform": [{"filter": "datum.s === 'Ground Truth'"}],
     "mark": {"type": "line", "strokeWidth": 1},
     "encoding": {
       "x": {"field": "t", "type": "quantitative", "axis": null},
       "y": {"field": "v", "type": "quantitative", "axis": null},
       "order": {"field": "o", "type": "quantitative"},
       "color": {"field": "s", "type": "nominal"}
     }},
    {"mark": {"type": "line", "opacity": 0},
     "encoding": {
       "x": {"field": "t", "type": "quantitative", "axis": {"orient": "top", "values": [0,200,400,600,800,1000,1200,1400,1600,1800], "labels": false, "title": null}},
       "y": {"field": "v", "type": "quantitative", "axis": {"orient": "right", "values": [1,1.5,2], "labels": false, "title": null}},
       "order": {"field": "o", "type": "quantitative"},
       "detail": {"field": "s", "type": "nominal"}
     }}
  ],
  "resolve": {"axis": {"x": "independent", "y": "independent"}}
},
{
  "width": 825, "height": 128,
  "title": {"text": "Segmented Trajectory", "offset": 3},
  "data": {"values": [
{"s":"Anomalous","t":0,"p":1.0},{"s":"Anomalous","t":5,"p":0.6},{"s":"Anomalous","t":10,"p":1.4},{"s":"Anomalous","t":15,"p":1.1},{"s":"Anomalous","t":20,"p":1.6},{"s":"Anomalous","t":25,"p":0.9},{"s":"Anomalous","t":30,"p":1.3},{"s":"Anomalous","t":35,"p":0.8},{"s":"Anomalous","t":40,"p":1.2},{"s":"Anomalous","t":45,"p":0.4},
{"s":"Anomalous","t":50,"p":-0.6},{"s":"Anomalous","t":55,"p":-1.5},{"s":"Anomalous","t":60,"p":-2.0},{"s":"Anomalous","t":65,"p":-1.6},{"s":"Anomalous","t":70,"p":-2.7},{"s":"Anomalous","t":75,"p":-2.3},{"s":"Anomalous","t":80,"p":-1.4},{"s":"Anomalous","t":85,"p":-0.7},{"s":"Anomalous","t":90,"p":-1.1},{"s":"Anomalous","t":95,"p":-0.2},
{"s":"Anomalous","t":100,"p":-0.6},{"s":"Anomalous","t":105,"p":0.3},{"s":"Anomalous","t":110,"p":0.1},{"s":"Anomalous","t":115,"p":1.0},{"s":"Anomalous","t":120,"p":1.7},{"s":"Anomalous","t":125,"p":1.4},{"s":"Anomalous","t":130,"p":2.4},{"s":"Anomalous","t":135,"p":2.9},{"s":"Anomalous","t":140,"p":3.3},{"s":"Anomalous","t":145,"p":2.6},
{"s":"Anomalous","t":150,"p":2.9},{"s":"Anomalous","t":155,"p":2.2},{"s":"Anomalous","t":160,"p":2.5},{"s":"Anomalous","t":165,"p":1.6},{"s":"Anomalous","t":170,"p":1.9},{"s":"Anomalous","t":175,"p":1.0},{"s":"Anomalous","t":180,"p":0.5},{"s":"Anomalous","t":185,"p":1.2},{"s":"Anomalous","t":190,"p":0.8},{"s":"Anomalous","t":195,"p":1.7},
{"s":"Anomalous","t":200,"p":1.3},{"s":"Anomalous","t":205,"p":1.8},{"s":"Anomalous","t":210,"p":0.9},{"s":"Anomalous","t":215,"p":0.3},{"s":"Anomalous","t":220,"p":1.1},{"s":"Anomalous","t":225,"p":0.5},{"s":"Anomalous","t":230,"p":1.4},{"s":"Anomalous","t":235,"p":1.0},{"s":"Anomalous","t":240,"p":2.1},{"s":"Anomalous","t":245,"p":2.6},
{"s":"Anomalous","t":250,"p":3.2},{"s":"Anomalous","t":255,"p":3.0},{"s":"Anomalous","t":260,"p":4.1},{"s":"Anomalous","t":265,"p":3.2},{"s":"Anomalous","t":270,"p":3.6},{"s":"Anomalous","t":275,"p":2.7},{"s":"Anomalous","t":280,"p":2.2},{"s":"Anomalous","t":285,"p":2.9},{"s":"Anomalous","t":290,"p":1.6},{"s":"Anomalous","t":295,"p":0.9},
{"s":"Anomalous","t":300,"p":1.4},{"s":"Anomalous","t":305,"p":0.6},{"s":"Anomalous","t":310,"p":1.7},{"s":"Anomalous","t":315,"p":2.3},{"s":"Anomalous","t":320,"p":1.8},{"s":"Anomalous","t":325,"p":2.6},{"s":"Anomalous","t":330,"p":3.1},{"s":"Anomalous","t":335,"p":2.4},{"s":"Anomalous","t":340,"p":1.3},{"s":"Anomalous","t":345,"p":0.2},
{"s":"Anomalous","t":350,"p":-0.4},{"s":"Anomalous","t":355,"p":-0.9},{"s":"Anomalous","t":360,"p":-0.2},{"s":"Anomalous","t":365,"p":0.5},{"s":"Anomalous","t":370,"p":0.1},{"s":"Anomalous","t":375,"p":0.9},{"s":"Anomalous","t":380,"p":0.3},{"s":"Anomalous","t":385,"p":1.2},{"s":"Anomalous","t":390,"p":0.8},{"s":"Anomalous","t":395,"p":1.9},
{"s":"Anomalous","t":400,"p":1.3},{"s":"Anomalous","t":405,"p":0.6},{"s":"Anomalous","t":410,"p":1.5},{"s":"Anomalous","t":415,"p":1.0},{"s":"Anomalous","t":420,"p":1.8},{"s":"Anomalous","t":425,"p":2.4},{"s":"Anomalous","t":430,"p":3.4},{"s":"Anomalous","t":435,"p":2.6},{"s":"Anomalous","t":440,"p":1.8},{"s":"Anomalous","t":445,"p":2.4},
{"s":"Anomalous","t":450,"p":1.2},{"s":"Anomalous","t":455,"p":0.7},{"s":"Anomalous","t":460,"p":1.4},{"s":"Anomalous","t":465,"p":0.8},{"s":"Anomalous","t":470,"p":1.3},{"s":"Anomalous","t":475,"p":0.6},{"s":"Anomalous","t":480,"p":-0.3},{"s":"Anomalous","t":485,"p":-2.0},{"s":"Anomalous","t":490,"p":-0.6},{"s":"Anomalous","t":495,"p":0.9},
{"s":"Anomalous","t":500,"p":2.1},{"s":"Anomalous","t":505,"p":2.8},{"s":"Anomalous","t":510,"p":3.5},{"s":"Anomalous","t":515,"p":4.6},{"s":"Anomalous","t":520,"p":5.4},{"s":"Anomalous","t":525,"p":4.3},{"s":"Anomalous","t":530,"p":4.8},{"s":"Anomalous","t":535,"p":3.7},{"s":"Anomalous","t":540,"p":4.1},{"s":"Anomalous","t":545,"p":3.0},
{"s":"Anomalous","t":550,"p":2.2},{"s":"Anomalous","t":555,"p":2.6},{"s":"Anomalous","t":560,"p":1.7},{"s":"Anomalous","t":565,"p":2.2},{"s":"Anomalous","t":570,"p":1.4},{"s":"Anomalous","t":575,"p":1.9},{"s":"Anomalous","t":580,"p":1.2},{"s":"Anomalous","t":585,"p":1.8},{"s":"Anomalous","t":590,"p":0.5},{"s":"Anomalous","t":595,"p":-0.5},
{"s":"Anomalous","t":600,"p":-1.5},{"s":"Anomalous","t":605,"p":-2.8},{"s":"Anomalous","t":610,"p":-2.2},{"s":"Anomalous","t":615,"p":-1.3},{"s":"Anomalous","t":620,"p":-0.9},{"s":"Anomalous","t":625,"p":-1.5},{"s":"Anomalous","t":630,"p":-0.4},{"s":"Anomalous","t":635,"p":-0.8},{"s":"Anomalous","t":640,"p":0.5},{"s":"Anomalous","t":645,"p":-0.2},
{"s":"Anomalous","t":650,"p":0.8},{"s":"Anomalous","t":655,"p":0.2},{"s":"Anomalous","t":660,"p":1.1},{"s":"Anomalous","t":665,"p":0.4},{"s":"Anomalous","t":670,"p":1.5},{"s":"Anomalous","t":675,"p":0.6},{"s":"Anomalous","t":680,"p":-0.3},{"s":"Anomalous","t":685,"p":-0.9},{"s":"Anomalous","t":690,"p":-0.2},{"s":"Anomalous","t":695,"p":-1.4},
{"s":"Anomalous","t":700,"p":-2.2},{"s":"Anomalous","t":705,"p":-3.0},{"s":"Anomalous","t":710,"p":-1.8},{"s":"Anomalous","t":715,"p":-1.2},{"s":"Anomalous","t":720,"p":-0.3},{"s":"Anomalous","t":725,"p":1.0},{"s":"Anomalous","t":730,"p":2.3},{"s":"Anomalous","t":735,"p":3.8},{"s":"Anomalous","t":740,"p":5.0},{"s":"Anomalous","t":745,"p":6.6},
{"s":"Anomalous","t":750,"p":8.6},
{"s":"Anomalous","t":2.5,"p":0.2},{"s":"Anomalous","t":7.5,"p":1.6},{"s":"Anomalous","t":12.5,"p":0.7},{"s":"Anomalous","t":17.5,"p":1.9},{"s":"Anomalous","t":22.5,"p":0.6},{"s":"Anomalous","t":27.5,"p":1.7},{"s":"Anomalous","t":32.5,"p":0.5},{"s":"Anomalous","t":37.5,"p":1.6},{"s":"Anomalous","t":42.5,"p":0.2},{"s":"Anomalous","t":47.5,"p":0.5},
{"s":"Anomalous","t":52.5,"p":-1.6},{"s":"Anomalous","t":57.5,"p":-1.1},{"s":"Anomalous","t":62.5,"p":-2.5},{"s":"Anomalous","t":67.5,"p":-1.5},{"s":"Anomalous","t":72.5,"p":-3.1},{"s":"Anomalous","t":77.5,"p":-1.3},{"s":"Anomalous","t":82.5,"p":-1.6},{"s":"Anomalous","t":87.5,"p":-0.3},{"s":"Anomalous","t":92.5,"p":-1.2},{"s":"Anomalous","t":97.5,"p":0.2},
{"s":"Anomalous","t":102.5,"p":-0.7},{"s":"Anomalous","t":107.5,"p":0.8},{"s":"Anomalous","t":112.5,"p":0.0},{"s":"Anomalous","t":117.5,"p":1.9},{"s":"Anomalous","t":122.5,"p":1.0},{"s":"Anomalous","t":127.5,"p":2.5},{"s":"Anomalous","t":132.5,"p":2.0},{"s":"Anomalous","t":137.5,"p":3.7},{"s":"Anomalous","t":142.5,"p":2.4},{"s":"Anomalous","t":147.5,"p":3.3},
{"s":"Anomalous","t":152.5,"p":2.0},{"s":"Anomalous","t":157.5,"p":2.9},{"s":"Anomalous","t":162.5,"p":1.5},{"s":"Anomalous","t":167.5,"p":2.3},{"s":"Anomalous","t":172.5,"p":0.9},{"s":"Anomalous","t":177.5,"p":1.3},{"s":"Anomalous","t":182.5,"p":0.3},{"s":"Anomalous","t":187.5,"p":1.6},{"s":"Anomalous","t":192.5,"p":0.7},{"s":"Anomalous","t":197.5,"p":2.1},
{"s":"Anomalous","t":202.5,"p":1.0},{"s":"Anomalous","t":207.5,"p":1.9},{"s":"Anomalous","t":212.5,"p":0.0},{"s":"Anomalous","t":217.5,"p":1.3},{"s":"Anomalous","t":222.5,"p":0.2},{"s":"Anomalous","t":227.5,"p":1.5},{"s":"Anomalous","t":232.5,"p":0.6},{"s":"Anomalous","t":237.5,"p":2.1},{"s":"Anomalous","t":242.5,"p":1.8},{"s":"Anomalous","t":247.5,"p":3.5},
{"s":"Anomalous","t":252.5,"p":2.6},{"s":"Anomalous","t":257.5,"p":4.1},{"s":"Anomalous","t":262.5,"p":3.1},{"s":"Anomalous","t":267.5,"p":4.0},{"s":"Anomalous","t":272.5,"p":2.6},{"s":"Anomalous","t":277.5,"p":3.0},{"s":"Anomalous","t":282.5,"p":2.0},{"s":"Anomalous","t":287.5,"p":2.8},{"s":"Anomalous","t":292.5,"p":0.7},{"s":"Anomalous","t":297.5,"p":1.7},
{"s":"Anomalous","t":302.5,"p":0.4},{"s":"Anomalous","t":307.5,"p":1.7},{"s":"Anomalous","t":312.5,"p":1.4},{"s":"Anomalous","t":317.5,"p":2.6},{"s":"Anomalous","t":322.5,"p":1.6},{"s":"Anomalous","t":327.5,"p":3.4},{"s":"Anomalous","t":332.5,"p":2.2},{"s":"Anomalous","t":337.5,"p":2.4},{"s":"Anomalous","t":342.5,"p":0.2},{"s":"Anomalous","t":347.5,"p":0.5},
{"s":"Anomalous","t":352.5,"p":-1.2},{"s":"Anomalous","t":357.5,"p":0.0},{"s":"Anomalous","t":362.5,"p":-0.4},{"s":"Anomalous","t":367.5,"p":0.9},{"s":"Anomalous","t":372.5,"p":-0.1},{"s":"Anomalous","t":377.5,"p":1.2},{"s":"Anomalous","t":382.5,"p":0.2},{"s":"Anomalous","t":387.5,"p":1.6},{"s":"Anomalous","t":392.5,"p":0.8},{"s":"Anomalous","t":397.5,"p":2.2},
{"s":"Anomalous","t":402.5,"p":0.4},{"s":"Anomalous","t":407.5,"p":1.6},{"s":"Anomalous","t":412.5,"p":0.7},{"s":"Anomalous","t":417.5,"p":2.0},{"s":"Anomalous","t":422.5,"p":1.5},{"s":"Anomalous","t":427.5,"p":3.5},{"s":"Anomalous","t":432.5,"p":2.4},{"s":"Anomalous","t":437.5,"p":2.8},{"s":"Anomalous","t":442.5,"p":1.5},{"s":"Anomalous","t":447.5,"p":2.4},
{"s":"Anomalous","t":452.5,"p":0.4},{"s":"Anomalous","t":457.5,"p":1.6},{"s":"Anomalous","t":462.5,"p":0.5},{"s":"Anomalous","t":467.5,"p":1.6},{"s":"Anomalous","t":472.5,"p":0.4},{"s":"Anomalous","t":477.5,"p":0.7},{"s":"Anomalous","t":482.5,"p":-1.7},{"s":"Anomalous","t":487.5,"p":-0.8},{"s":"Anomalous","t":492.5,"p":-0.4},{"s":"Anomalous","t":497.5,"p":2.1},
{"s":"Anomalous","t":502.5,"p":1.9},{"s":"Anomalous","t":507.5,"p":3.7},{"s":"Anomalous","t":512.5,"p":3.5},{"s":"Anomalous","t":517.5,"p":5.6},{"s":"Anomalous","t":522.5,"p":4.3},{"s":"Anomalous","t":527.5,"p":5.1},{"s":"Anomalous","t":532.5,"p":3.7},{"s":"Anomalous","t":537.5,"p":4.5},{"s":"Anomalous","t":542.5,"p":3.0},{"s":"Anomalous","t":547.5,"p":3.2},
{"s":"Anomalous","t":552.5,"p":1.9},{"s":"Anomalous","t":557.5,"p":2.7},{"s":"Anomalous","t":562.5,"p":1.4},{"s":"Anomalous","t":567.5,"p":2.4},{"s":"Anomalous","t":572.5,"p":1.1},{"s":"Anomalous","t":577.5,"p":2.1},{"s":"Anomalous","t":582.5,"p":0.9},{"s":"Anomalous","t":587.5,"p":1.7},{"s":"Anomalous","t":592.5,"p":-0.6},{"s":"Anomalous","t":597.5,"p":-0.4},
{"s":"Anomalous","t":602.5,"p":-2.7},{"s":"Anomalous","t":607.5,"p":-1.9},{"s":"Anomalous","t":612.5,"p":-2.3},{"s":"Anomalous","t":617.5,"p":-0.5},{"s":"Anomalous","t":622.5,"p":-1.8},{"s":"Anomalous","t":627.5,"p":-0.4},{"s":"Anomalous","t":632.5,"p":-1.1},{"s":"Anomalous","t":637.5,"p":0.4},{"s":"Anomalous","t":642.5,"p":-0.4},{"s":"Anomalous","t":647.5,"p":0.9},
{"s":"Anomalous","t":652.5,"p":-0.1},{"s":"Anomalous","t":657.5,"p":1.2},{"s":"Anomalous","t":662.5,"p":0.2},{"s":"Anomalous","t":667.5,"p":1.5},{"s":"Anomalous","t":672.5,"p":0.5},{"s":"Anomalous","t":677.5,"p":0.7},{"s":"Anomalous","t":682.5,"p":-1.2},{"s":"Anomalous","t":687.5,"p":0.0},{"s":"Anomalous","t":692.5,"p":-1.4},{"s":"Anomalous","t":697.5,"p":-1.2},
{"s":"Anomalous","t":702.5,"p":-3.2},{"s":"Anomalous","t":707.5,"p":-1.8},{"s":"Anomalous","t":712.5,"p":-2.0},{"s":"Anomalous","t":717.5,"p":-0.2},{"s":"Anomalous","t":722.5,"p":-0.1},{"s":"Anomalous","t":727.5,"p":2.1},{"s":"Anomalous","t":732.5,"p":2.6},{"s":"Anomalous","t":737.5,"p":4.9},{"s":"Anomalous","t":742.5,"p":5.3},{"s":"Anomalous","t":747.5,"p":8.0},
{"s":"Normal","t":750,"p":8.6},{"s":"Normal","t":755,"p":7.9},{"s":"Normal","t":760,"p":6.6},{"s":"Normal","t":765,"p":5.0},{"s":"Normal","t":770,"p":4.0},{"s":"Normal","t":775,"p":5.8},{"s":"Normal","t":780,"p":6.6},{"s":"Normal","t":785,"p":9.5},{"s":"Normal","t":790,"p":12.8},{"s":"Normal","t":795,"p":15.4},
{"s":"Normal","t":800,"p":17.3},{"s":"Normal","t":805,"p":18.4},{"s":"Normal","t":810,"p":22.5},{"s":"Normal","t":815,"p":26.0},{"s":"Normal","t":820,"p":24.2},{"s":"Normal","t":825,"p":22.0},{"s":"Normal","t":830,"p":23.4},{"s":"Normal","t":835,"p":21.6},{"s":"Normal","t":840,"p":22.8},{"s":"Normal","t":845,"p":22.2},
{"s":"Normal","t":850,"p":17.5},{"s":"Normal","t":855,"p":13.4},{"s":"Normal","t":860,"p":11.8},{"s":"Normal","t":865,"p":10.6},{"s":"Normal","t":870,"p":12.0},{"s":"Normal","t":875,"p":11.2},{"s":"Normal","t":880,"p":12.8},{"s":"Normal","t":885,"p":13.6},{"s":"Normal","t":890,"p":11.0},{"s":"Normal","t":895,"p":8.4},
{"s":"Normal","t":900,"p":6.6},{"s":"Normal","t":905,"p":8.2},{"s":"Normal","t":910,"p":10.6},{"s":"Normal","t":915,"p":8.0},{"s":"Normal","t":920,"p":6.8},{"s":"Normal","t":925,"p":5.8},{"s":"Normal","t":930,"p":6.9},{"s":"Normal","t":935,"p":6.2},{"s":"Normal","t":940,"p":6.7},{"s":"Normal","t":945,"p":6.0},
{"s":"Normal","t":950,"p":7.1},{"s":"Normal","t":955,"p":7.6},{"s":"Normal","t":960,"p":9.0},{"s":"Normal","t":965,"p":7.2},{"s":"Normal","t":970,"p":4.6},{"s":"Normal","t":975,"p":2.5},{"s":"Normal","t":980,"p":-0.6},{"s":"Normal","t":985,"p":1.5},{"s":"Normal","t":990,"p":2.3},{"s":"Normal","t":995,"p":0.5},
{"s":"Normal","t":1000,"p":-2.6},{"s":"Normal","t":1005,"p":-4.6},{"s":"Normal","t":1010,"p":-3.0},{"s":"Normal","t":1015,"p":-1.6},{"s":"Normal","t":1020,"p":-0.6},{"s":"Normal","t":1025,"p":2.0},{"s":"Normal","t":1030,"p":3.6},{"s":"Normal","t":1035,"p":5.2},{"s":"Normal","t":1040,"p":4.6},{"s":"Normal","t":1045,"p":7.4},
{"s":"Normal","t":1050,"p":8.9},{"s":"Normal","t":1055,"p":11.5},{"s":"Normal","t":1060,"p":15.2},{"s":"Normal","t":1065,"p":17.4},{"s":"Normal","t":1070,"p":19.8},{"s":"Normal","t":1075,"p":20.8},{"s":"Normal","t":1080,"p":21.4},{"s":"Normal","t":1085,"p":23.1},{"s":"Normal","t":1090,"p":19.6},{"s":"Normal","t":1095,"p":21.0},
{"s":"Normal","t":1100,"p":21.8},{"s":"Normal","t":1105,"p":22.9},{"s":"Normal","t":1110,"p":24.2},{"s":"Normal","t":1115,"p":24.8},{"s":"Normal","t":1120,"p":22.8},{"s":"Normal","t":1125,"p":24.6},{"s":"Normal","t":1130,"p":23.4},{"s":"Normal","t":1135,"p":25.6},{"s":"Normal","t":1140,"p":26.2},{"s":"Normal","t":1145,"p":27.0},
{"s":"Normal","t":1150,"p":26.6},{"s":"Normal","t":1155,"p":29.4},{"s":"Normal","t":1160,"p":28.2},{"s":"Normal","t":1165,"p":29.0},{"s":"Normal","t":1170,"p":26.2},{"s":"Normal","t":1175,"p":27.6},{"s":"Normal","t":1180,"p":28.9},{"s":"Normal","t":1185,"p":28.0},{"s":"Normal","t":1190,"p":27.2},{"s":"Normal","t":1195,"p":26.7},
{"s":"Normal","t":1200,"p":29.3},{"s":"Normal","t":1205,"p":31.2},{"s":"Normal","t":1210,"p":30.6},{"s":"Normal","t":1215,"p":32.0},{"s":"Normal","t":1220,"p":31.2},{"s":"Normal","t":1225,"p":32.6},{"s":"Normal","t":1230,"p":33.3},{"s":"Normal","t":1235,"p":35.6},{"s":"Normal","t":1240,"p":39.0},{"s":"Normal","t":1245,"p":39.8},
{"s":"Normal","t":1250,"p":41.0},{"s":"Normal","t":1255,"p":40.2},{"s":"Normal","t":1260,"p":38.4},{"s":"Normal","t":1265,"p":37.2},{"s":"Normal","t":1270,"p":35.2},{"s":"Normal","t":1275,"p":34.0},{"s":"Normal","t":1280,"p":35.6},{"s":"Normal","t":1285,"p":36.9},{"s":"Normal","t":1290,"p":36.0},{"s":"Normal","t":1295,"p":37.2},
{"s":"Normal","t":1300,"p":37.6},{"s":"Normal","t":1305,"p":39.2},{"s":"Normal","t":1310,"p":41.1},{"s":"Normal","t":1315,"p":37.0},{"s":"Normal","t":1320,"p":38.6},{"s":"Normal","t":1325,"p":37.3},{"s":"Normal","t":1330,"p":34.5},{"s":"Normal","t":1335,"p":29.4},{"s":"Normal","t":1340,"p":28.0},{"s":"Normal","t":1345,"p":27.6},
{"s":"Normal","t":1350,"p":27.0},{"s":"Normal","t":1355,"p":26.2},{"s":"Normal","t":1360,"p":23.4},{"s":"Normal","t":1365,"p":20.8},{"s":"Normal","t":1370,"p":18.6},{"s":"Normal","t":1375,"p":16.5},{"s":"Normal","t":1380,"p":15.5},{"s":"Normal","t":1385,"p":14.8},{"s":"Normal","t":1390,"p":14.3},{"s":"Normal","t":1395,"p":14.9},
{"s":"Normal","t":1400,"p":15.8},{"s":"Normal","t":1405,"p":18.6},{"s":"Normal","t":1410,"p":21.5},{"s":"Normal","t":1415,"p":20.9},{"s":"Normal","t":1420,"p":19.8},{"s":"Normal","t":1425,"p":22.2},{"s":"Normal","t":1430,"p":23.2},{"s":"Normal","t":1435,"p":25.5},{"s":"Normal","t":1440,"p":26.0},{"s":"Normal","t":1445,"p":25.2},
{"s":"Normal","t":1450,"p":22.4},{"s":"Normal","t":1455,"p":20.1},{"s":"Normal","t":1460,"p":18.4},{"s":"Normal","t":1465,"p":17.0},{"s":"Normal","t":1470,"p":15.8},{"s":"Normal","t":1475,"p":16.6},{"s":"Normal","t":1480,"p":14.8},{"s":"Normal","t":1485,"p":15.2},{"s":"Normal","t":1490,"p":13.0},{"s":"Normal","t":1495,"p":11.8},
{"s":"Normal","t":1500,"p":10.6},{"s":"Normal","t":1505,"p":8.8},{"s":"Normal","t":1510,"p":6.6},{"s":"Normal","t":1515,"p":5.4},{"s":"Normal","t":1520,"p":3.4},{"s":"Normal","t":1525,"p":1.2},{"s":"Normal","t":1530,"p":0.2},{"s":"Normal","t":1535,"p":1.1},{"s":"Normal","t":1540,"p":0.6},{"s":"Normal","t":1545,"p":1.8},
{"s":"Normal","t":1550,"p":3.2},{"s":"Normal","t":1555,"p":4.4},{"s":"Normal","t":1560,"p":7.0},{"s":"Normal","t":1565,"p":5.2},{"s":"Normal","t":1570,"p":3.0},{"s":"Normal","t":1575,"p":1.4},{"s":"Normal","t":1580,"p":-1.4},{"s":"Normal","t":1585,"p":1.6},{"s":"Normal","t":1590,"p":4.2},{"s":"Normal","t":1595,"p":5.4},
{"s":"Normal","t":1600,"p":1.8},{"s":"Normal","t":1605,"p":3.2},{"s":"Normal","t":1610,"p":6.6},{"s":"Normal","t":1615,"p":4.1},{"s":"Normal","t":1620,"p":3.0},{"s":"Normal","t":1625,"p":2.6},{"s":"Normal","t":1630,"p":1.4},{"s":"Normal","t":1635,"p":-0.4},{"s":"Normal","t":1640,"p":-2.6},{"s":"Normal","t":1645,"p":-4.6},
{"s":"Normal","t":1650,"p":-2.4},{"s":"Normal","t":1655,"p":-0.6},{"s":"Normal","t":1660,"p":0.5},{"s":"Normal","t":1665,"p":1.0},{"s":"Normal","t":1670,"p":0.3},{"s":"Normal","t":1675,"p":3.2},{"s":"Normal","t":1680,"p":3.6},{"s":"Normal","t":1685,"p":2.9},{"s":"Normal","t":1690,"p":-1.0},{"s":"Normal","t":1695,"p":0.6},
{"s":"Normal","t":1700,"p":1.6},
{"s":"Normal","t":752.5,"p":7.6},{"s":"Normal","t":757.5,"p":7.9},{"s":"Normal","t":762.5,"p":5.1},{"s":"Normal","t":767.5,"p":5.2},{"s":"Normal","t":772.5,"p":4.2},{"s":"Normal","t":777.5,"p":6.9},{"s":"Normal","t":782.5,"p":7.3},{"s":"Normal","t":787.5,"p":11.9},{"s":"Normal","t":792.5,"p":13.3},{"s":"Normal","t":797.5,"p":17.1},
{"s":"Normal","t":802.5,"p":17.0},{"s":"Normal","t":807.5,"p":21.3},{"s":"Normal","t":812.5,"p":23.4},{"s":"Normal","t":817.5,"p":25.9},{"s":"Normal","t":822.5,"p":22.3},{"s":"Normal","t":827.5,"p":23.5},{"s":"Normal","t":832.5,"p":21.7},{"s":"Normal","t":837.5,"p":23.0},{"s":"Normal","t":842.5,"p":21.7},{"s":"Normal","t":847.5,"p":20.6},
{"s":"Normal","t":852.5,"p":14.6},{"s":"Normal","t":857.5,"p":13.4},{"s":"Normal","t":862.5,"p":10.4},{"s":"Normal","t":867.5,"p":12.1},{"s":"Normal","t":872.5,"p":10.8},{"s":"Normal","t":877.5,"p":12.8},{"s":"Normal","t":882.5,"p":12.4},{"s":"Normal","t":887.5,"p":13.1},{"s":"Normal","t":892.5,"p":8.9},{"s":"Normal","t":897.5,"p":8.3},
{"s":"Normal","t":902.5,"p":6.7},{"s":"Normal","t":907.5,"p":10.1},{"s":"Normal","t":912.5,"p":8.6},{"s":"Normal","t":917.5,"p":8.1},{"s":"Normal","t":922.5,"p":5.6},{"s":"Normal","t":927.5,"p":7.0},{"s":"Normal","t":932.5,"p":5.9},{"s":"Normal","t":937.5,"p":7.1},{"s":"Normal","t":942.5,"p":5.7},{"s":"Normal","t":947.5,"p":7.2},
{"s":"Normal","t":952.5,"p":6.7},{"s":"Normal","t":957.5,"p":9.0},{"s":"Normal","t":962.5,"p":7.4},{"s":"Normal","t":967.5,"p":6.6},{"s":"Normal","t":972.5,"p":2.8},{"s":"Normal","t":977.5,"p":1.7},{"s":"Normal","t":982.5,"p":-0.2},{"s":"Normal","t":987.5,"p":2.6},{"s":"Normal","t":992.5,"p":0.7},{"s":"Normal","t":997.5,"p":-0.4},
{"s":"Normal","t":1002.5,"p":-4.3},{"s":"Normal","t":1007.5,"p":-3.1},{"s":"Normal","t":1012.5,"p":-3.0},{"s":"Normal","t":1017.5,"p":-0.4},{"s":"Normal","t":1022.5,"p":0.0},{"s":"Normal","t":1027.5,"p":3.5},{"s":"Normal","t":1032.5,"p":3.7},{"s":"Normal","t":1037.5,"p":5.6},{"s":"Normal","t":1042.5,"p":5.3},{"s":"Normal","t":1047.5,"p":8.9},
{"s":"Normal","t":1052.5,"p":9.4},{"s":"Normal","t":1057.5,"p":14.1},{"s":"Normal","t":1062.5,"p":15.5},{"s":"Normal","t":1067.5,"p":19.4},{"s":"Normal","t":1072.5,"p":19.5},{"s":"Normal","t":1077.5,"p":21.9},{"s":"Normal","t":1082.5,"p":21.4},{"s":"Normal","t":1087.5,"p":22.2},{"s":"Normal","t":1092.5,"p":19.5},{"s":"Normal","t":1097.5,"p":22.2},
{"s":"Normal","t":1102.5,"p":21.6},{"s":"Normal","t":1107.5,"p":24.4},{"s":"Normal","t":1112.5,"p":23.7},{"s":"Normal","t":1117.5,"p":24.6},{"s":"Normal","t":1122.5,"p":22.9},{"s":"Normal","t":1127.5,"p":24.8},{"s":"Normal","t":1132.5,"p":23.7},{"s":"Normal","t":1137.5,"p":26.7},{"s":"Normal","t":1142.5,"p":25.8},{"s":"Normal","t":1147.5,"p":27.6},
{"s":"Normal","t":1152.5,"p":27.2},{"s":"Normal","t":1157.5,"p":29.6},{"s":"Normal","t":1162.5,"p":27.8},{"s":"Normal","t":1167.5,"p":28.4},{"s":"Normal","t":1172.5,"p":26.1},{"s":"Normal","t":1177.5,"p":29.1},{"s":"Normal","t":1182.5,"p":27.6},{"s":"Normal","t":1187.5,"p":28.4},{"s":"Normal","t":1192.5,"p":26.1},{"s":"Normal","t":1197.5,"p":28.8},
{"s":"Normal","t":1202.5,"p":29.4},{"s":"Normal","t":1207.5,"p":31.7},{"s":"Normal","t":1212.5,"p":30.5},{"s":"Normal","t":1217.5,"p":32.4},{"s":"Normal","t":1222.5,"p":31.1},{"s":"Normal","t":1227.5,"p":33.8},{"s":"Normal","t":1232.5,"p":33.6},{"s":"Normal","t":1237.5,"p":38.1},{"s":"Normal","t":1242.5,"p":38.6},{"s":"Normal","t":1247.5,"p":41.2},
{"s":"Normal","t":1252.5,"p":39.8},{"s":"Normal","t":1257.5,"p":40.1},{"s":"Normal","t":1262.5,"p":37.0},{"s":"Normal","t":1267.5,"p":37.0},{"s":"Normal","t":1272.5,"p":33.8},{"s":"Normal","t":1277.5,"p":35.6},{"s":"Normal","t":1282.5,"p":35.4},{"s":"Normal","t":1287.5,"p":37.3},{"s":"Normal","t":1292.5,"p":35.8},{"s":"Normal","t":1297.5,"p":38.2},
{"s":"Normal","t":1302.5,"p":37.6},{"s":"Normal","t":1307.5,"p":40.9},{"s":"Normal","t":1312.5,"p":38.2},{"s":"Normal","t":1317.5,"p":38.6},{"s":"Normal","t":1322.5,"p":37.1},{"s":"Normal","t":1327.5,"p":36.7},{"s":"Normal","t":1332.5,"p":31.2},{"s":"Normal","t":1337.5,"p":29.5},{"s":"Normal","t":1342.5,"p":27.0},{"s":"Normal","t":1347.5,"p":28.1},
{"s":"Normal","t":1352.5,"p":25.8},{"s":"Normal","t":1357.5,"p":25.6},{"s":"Normal","t":1362.5,"p":21.3},{"s":"Normal","t":1367.5,"p":20.5},{"s":"Normal","t":1372.5,"p":16.8},{"s":"Normal","t":1377.5,"p":16.8},{"s":"Normal","t":1382.5,"p":14.4},{"s":"Normal","t":1387.5,"p":15.3},{"s":"Normal","t":1392.5,"p":13.9},{"s":"Normal","t":1397.5,"p":16.1},
{"s":"Normal","t":1402.5,"p":16.4},{"s":"Normal","t":1407.5,"p":20.9},{"s":"Normal","t":1412.5,"p":20.4},{"s":"Normal","t":1417.5,"p":21.1},{"s":"Normal","t":1422.5,"p":20.2},{"s":"Normal","t":1427.5,"p":23.5},{"s":"Normal","t":1432.5,"p":23.5},{"s":"Normal","t":1437.5,"p":26.5},{"s":"Normal","t":1442.5,"p":24.8},{"s":"Normal","t":1447.5,"p":24.6},
{"s":"Normal","t":1452.5,"p":20.4},{"s":"Normal","t":1457.5,"p":20.1},{"s":"Normal","t":1462.5,"p":16.9},{"s":"Normal","t":1467.5,"p":17.2},{"s":"Normal","t":1472.5,"p":15.4},{"s":"Normal","t":1477.5,"p":16.5},{"s":"Normal","t":1482.5,"p":14.2},{"s":"Normal","t":1487.5,"p":14.9},{"s":"Normal","t":1492.5,"p":11.6},{"s":"Normal","t":1497.5,"p":12.0},
{"s":"Normal","t":1502.5,"p":9.0},{"s":"Normal","t":1507.5,"p":8.4},{"s":"Normal","t":1512.5,"p":5.3},{"s":"Normal","t":1517.5,"p":5.1},{"s":"Normal","t":1522.5,"p":1.6},{"s":"Normal","t":1527.5,"p":1.4},{"s":"Normal","t":1532.5,"p":0.0},{"s":"Normal","t":1537.5,"p":1.5},{"s":"Normal","t":1542.5,"p":0.5},{"s":"Normal","t":1547.5,"p":3.2},
{"s":"Normal","t":1552.5,"p":3.1},{"s":"Normal","t":1557.5,"p":6.4},{"s":"Normal","t":1562.5,"p":5.4},{"s":"Normal","t":1567.5,"p":4.8},{"s":"Normal","t":1572.5,"p":1.5},{"s":"Normal","t":1577.5,"p":0.7},{"s":"Normal","t":1582.5,"p":-0.6},{"s":"Normal","t":1587.5,"p":3.6},{"s":"Normal","t":1592.5,"p":4.1},{"s":"Normal","t":1597.5,"p":4.3},
{"s":"Normal","t":1602.5,"p":1.8},{"s":"Normal","t":1607.5,"p":5.6},{"s":"Normal","t":1612.5,"p":4.6},{"s":"Normal","t":1617.5,"p":4.2},{"s":"Normal","t":1622.5,"p":2.1},{"s":"Normal","t":1627.5,"p":2.7},{"s":"Normal","t":1632.5,"p":-0.2},{"s":"Normal","t":1637.5,"p":-0.8},{"s":"Normal","t":1642.5,"p":-4.3},{"s":"Normal","t":1647.5,"p":-2.8},
{"s":"Normal","t":1652.5,"p":-2.2},{"s":"Normal","t":1657.5,"p":0.7},{"s":"Normal","t":1662.5,"p":0.0},{"s":"Normal","t":1667.5,"p":1.4},{"s":"Normal","t":1672.5,"p":1.0},{"s":"Normal","t":1677.5,"p":4.1},{"s":"Normal","t":1682.5,"p":2.5},{"s":"Normal","t":1687.5,"p":1.6},{"s":"Normal","t":1692.5,"p":-0.9},{"s":"Normal","t":1697.5,"p":1.8}
  ]},
  "layer": [
    {"transform": [{"filter": "datum.s === 'Anomalous'"}],
     "mark": {"type": "line", "strokeWidth": 1, "clip": true},
     "encoding": {
       "x": {"field": "t", "type": "quantitative", "scale": {"domain": [0, 1800], "nice": false, "zero": false}, "axis": {"values": [0,200,400,600,800,1000,1200,1400,1600,1800], "labelExpr": "'' + datum.value", "title": "Time (ps)"}},
       "y": {"field": "p", "type": "quantitative", "scale": {"domain": [-5.1, 41.8], "nice": false, "zero": false}, "axis": {"values": [0,20,40], "labelExpr": "'' + datum.value", "title": "Position"}},
       "color": {"field": "s", "type": "nominal", "scale": {"domain": ["Normal","Anomalous"], "range": ["#D95319","#0072BD"]},
         "legend": {"title": null, "orient": "top-left", "offset": 10, "symbolType": "M-2.3,0H2.3", "symbolSize": 400, "symbolStrokeWidth": 1, "symbolOffset": 13, "labelOffset": 17, "labelFontSize": 18.5, "labelFont": "Liberation Sans", "labelColor": "black", "strokeColor": "#262626", "fillColor": "white", "padding": 5, "rowPadding": 5, "cornerRadius": 0,
           "encode": {"symbols": {"update": {"stroke": {"signal": "datum.value === 'Normal' ? '#D95319' : '#0072BD'"}, "strokeWidth": {"value": 1}, "opacity": {"value": 1}, "fill": {"value": "transparent"}}}}}}
     }},
    {"transform": [{"filter": "datum.s === 'Normal'"}],
     "mark": {"type": "line", "strokeWidth": 1, "clip": true},
     "encoding": {
       "x": {"field": "t", "type": "quantitative", "axis": null},
       "y": {"field": "p", "type": "quantitative", "axis": null},
       "color": {"field": "s", "type": "nominal"}
     }},
    {"mark": {"type": "line", "opacity": 0},
     "encoding": {
       "x": {"field": "t", "type": "quantitative", "axis": {"orient": "top", "values": [0,200,400,600,800,1000,1200,1400,1600,1800], "labels": false, "title": null}},
       "y": {"field": "p", "type": "quantitative", "axis": {"orient": "right", "values": [0,20,40], "labels": false, "title": null}},
       "detail": {"field": "s", "type": "nominal"}
     }}
  ],
  "resolve": {"axis": {"x": "independent", "y": "independent"}}
}
]
}
